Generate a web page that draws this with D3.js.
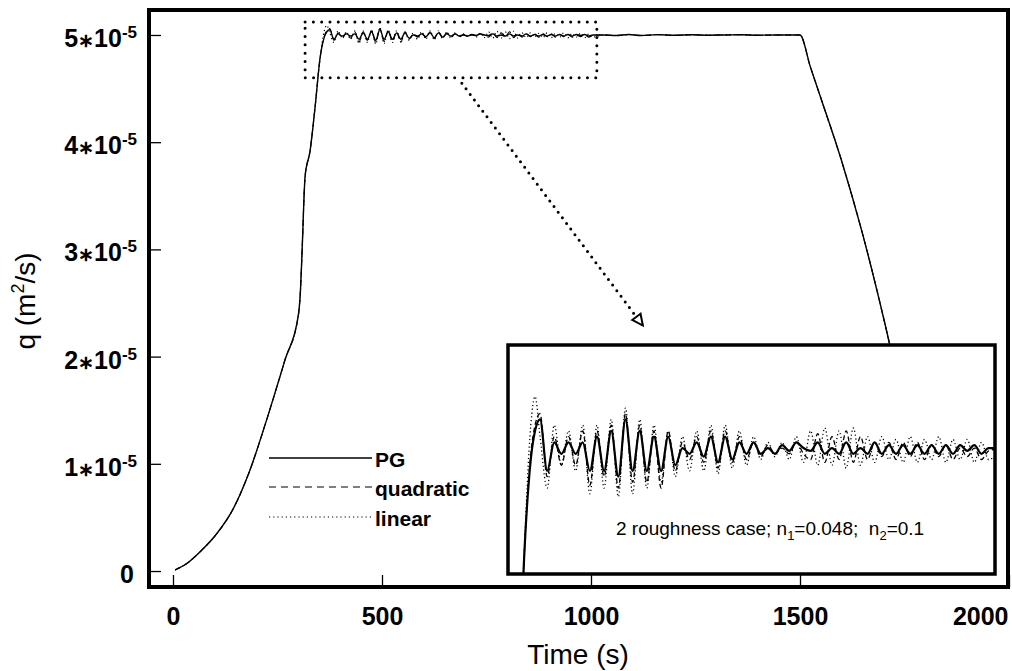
<!DOCTYPE html>
<html><head><meta charset="utf-8">
<script src="https://cdn.jsdelivr.net/npm/d3@7"></script>
<style>body{margin:0;background:#fff}text{font-family:"Liberation Sans",Arial,Helvetica,sans-serif;fill:#000;white-space:pre}</style>
</head><body>
<svg id="c" width="1012" height="671"></svg>
<script>
// ---------- DATA (q in units of 1e-5 m^2/s, time in s) ----------
const xTicks = [0, 500, 1000, 1500, 2000];
const yTicks = [0, 1, 2, 3, 4, 5];
const yExponent = "-5";
const seriesNames = ["PG", "quadratic", "linear"];

// common rising limb
const riseT = [5, 33, 65, 105, 144, 184, 224, 268, 300, 305, 309, 316, 328, 340, 352];
const riseQ = [0.01, 0.07, 0.18, 0.35, 0.58, 0.94, 1.41, 1.97, 2.39, 2.62, 3.00, 3.68, 3.92, 4.33, 4.79];

// oscillating plateau (shown enlarged in the inset)
const oscT = [362, 368, 375, 385, 395, 405, 415, 425, 435, 445, 455, 465, 475, 485, 495, 505, 515, 525, 535, 545,
  555, 565, 575, 585, 595, 605, 615, 625, 635, 645, 655, 665, 675, 685, 695, 705, 715, 725, 735, 745,
  755, 765, 775, 785, 795, 805, 815, 825, 835, 845, 855, 865, 875, 885, 895, 905, 915, 925, 935, 945,
  955, 965, 975, 985, 995, 1005];
const pgOsc = [4.98, 5.03,
  5.05, 4.96, 5.01, 4.99, 5.01, 4.99, 5.01, 4.96, 5.02, 4.96,
  5.03, 4.95, 5.05, 4.96, 5.03, 4.96, 5.02, 4.96, 5.02, 4.97,
  5.00, 4.99, 5.01, 4.985, 5.02, 4.975, 5.02, 4.98, 5.01, 4.99,
  5.01, 4.99, 5.00, 4.99, 5.005, 4.995, 5.01, 5.00, 4.995, 5.01,
  4.99, 5.00, 4.99, 5.01, 4.99, 5.00, 4.99, 5.01, 4.99, 5.005,
  4.99, 5.005, 4.99, 5.005, 4.99, 5.005, 4.99, 5.005, 4.99, 5.005,
  4.995, 5.005, 4.99, 5.00];
const quadOsc = [4.99, 5.04,
  5.06, 4.95, 5.02, 4.97, 5.02, 4.97, 5.03, 4.935, 5.03, 4.95,
  5.04, 4.93, 5.06, 4.94, 5.04, 4.94, 5.03, 4.93, 5.03, 4.96,
  5.01, 4.98, 5.02, 4.975, 5.03, 4.965, 5.03, 4.975, 5.02, 4.98,
  5.01, 4.985, 5.005, 4.99, 5.00, 4.99, 5.01, 4.99, 4.98, 5.025,
  4.975, 5.02, 4.98, 5.03, 4.975, 5.02, 4.98, 5.01, 4.985, 5.01,
  4.98, 5.01, 4.985, 5.01, 4.98, 5.005, 4.985, 5.005, 4.98, 5.00,
  4.985, 5.00, 4.98, 4.995];
const linOsc = [5.04, 5.09,
  5.02, 4.93, 5.04, 4.97, 5.03, 4.96, 5.04, 4.92, 5.04, 4.93,
  5.05, 4.915, 5.07, 4.92, 5.05, 4.93, 5.04, 4.94, 5.03, 4.95,
  5.02, 4.96, 5.03, 4.96, 5.04, 4.955, 5.04, 4.965, 5.03, 4.97,
  5.02, 4.98, 5.01, 4.985, 5.01, 4.98, 5.02, 4.975, 5.03, 4.97,
  5.035, 4.97, 5.03, 4.965, 5.035, 4.97, 5.02, 4.975, 5.02, 4.98,
  5.015, 4.975, 5.02, 4.975, 5.015, 4.98, 5.02, 4.975, 5.015, 4.98,
  5.015, 4.975, 5.01, 4.98];

// common plateau end and falling limb
const tailT = [1030, 1060, 1090, 1120, 1160, 1200, 1240, 1280, 1320, 1360, 1400, 1440, 1480, 1500, 1525, 1550, 1600, 1650, 1700, 1750, 1800, 1850];
const tailQ = [5.0, 4.995, 5.005, 4.995, 5.003, 4.997, 5.002, 4.998, 5.0, 5.002, 4.998, 5.0, 5.0, 5.0, 4.70, 4.41, 3.82, 3.14, 2.36, 1.50, 0.75, 0.20];

const insetNote = ["2 roughness case; n", "1", "=0.048;  n", "2", "=0.1"];

// ---------- BUILD ----------
const times = riseT.concat(oscT, tailT);
const series = [pgOsc, quadOsc, linOsc].map((osc, i) => ({
  name: seriesNames[i],
  pts: times.map((t, k) => [t, riseQ.concat(osc, tailQ)[k]])
}));
const styles = [
  {w: 1.4, dash: null, wi: 2.2},
  {w: 1.1, dash: "6,4", wi: 1.3, dashi: "5,3"},
  {w: 1.1, dash: "1.2,2.8", wi: 1.3, dashi: "1.2,2.6"}
];

const svg = d3.select("#c");
const L = 149, R = 1008, T = 10, B = 587;
const x = d3.scaleLinear().domain([-57.4, 2000]).range([149, 1009]);
const y = d3.scaleLinear().domain([-0.149, 5.233]).range([B, T]);

svg.append("defs").append("clipPath").attr("id", "mainclip")
  .append("rect").attr("x", L).attr("y", T).attr("width", R - L).attr("height", B - T);

const line = d3.line().x(d => x(d[0])).y(d => y(d[1])).curve(d3.curveMonotoneX);
const gMain = svg.append("g").attr("clip-path", "url(#mainclip)");
series.forEach((s, i) => {
  gMain.append("path").attr("d", line(s.pts)).attr("fill", "none").attr("stroke", "#000")
    .attr("stroke-width", styles[i].w).attr("stroke-dasharray", styles[i].dash);
});

// axes
const xa = svg.append("g").attr("transform", `translate(0,${B})`)
  .call(d3.axisBottom(x).tickValues(xTicks).tickSize(-12).tickPadding(20).tickFormat(d3.format("d")));
xa.select(".domain").remove();
xa.selectAll(".tick line").attr("stroke", "#000").attr("stroke-width", 1.3);
xa.selectAll(".tick text").attr("font-size", 25).attr("font-weight", "bold")
  .style("font-family", '"Liberation Sans", Arial, sans-serif').attr("fill", "#000");
xa.selectAll(".tick text").filter(d => d === 2000).attr("text-anchor", "end").attr("x", -1);

const ya = svg.append("g").attr("transform", `translate(${L},0)`)
  .call(d3.axisLeft(y).tickValues(yTicks).tickSize(-12).tickFormat(""));
ya.select(".domain").remove();
ya.selectAll(".tick line").attr("stroke", "#000").attr("stroke-width", 1.3);

const yl = svg.append("g").selectAll("text").data(yTicks).join("text")
  .attr("x", d => d === 0 ? 134 : 137).attr("y", d => y(d) + 12)
  .attr("text-anchor", "end").attr("font-size", 25).attr("font-weight", "bold");
yl.each(function(d) {
  const t = d3.select(this);
  if (d === 0) { t.text("0"); return; }
  t.append("tspan").text(String(d));
  t.append("tspan").attr("font-size", 19).text("\u2217");
  t.append("tspan").text("10");
  t.append("tspan").attr("font-size", 17).attr("dy", -9).text(yExponent);
});

// frame
svg.append("rect").attr("x", L).attr("y", T).attr("width", R - L).attr("height", B - T)
  .attr("fill", "none").attr("stroke", "#000").attr("stroke-width", 4);

// axis titles
svg.append("text").attr("x", 578).attr("y", 664).attr("text-anchor", "middle").attr("font-size", 28).text("Time (s)");
const yt = svg.append("text").attr("transform", "translate(35,301) rotate(-90)")
  .attr("text-anchor", "middle").attr("font-size", 28);
yt.append("tspan").text("q (m");
yt.append("tspan").attr("font-size", 18).attr("dy", -11).text("2");
yt.append("tspan").attr("dy", 11).text("/s)");

// legend
const legY = [458, 487, 517];
const lg = svg.append("g");
seriesNames.forEach((n, i) => {
  lg.append("line").attr("x1", 269).attr("x2", 372).attr("y1", legY[i]).attr("y2", legY[i])
    .attr("stroke", "#000").attr("stroke-width", i === 0 ? 1.4 : 1.1)
    .attr("stroke-dasharray", i === 0 ? null : (i === 1 ? "7,5" : "1.2,3"));
  lg.append("text").attr("x", 375).attr("y", legY[i] + 8.5).attr("font-size", 21).attr("font-weight", "bold").text(n);
});

// zoom rectangle
const zr = {t0: 316, t1: 1014, q0: 4.60, q1: 5.12};
svg.append("rect").attr("x", x(zr.t0)).attr("y", y(zr.q1)).attr("width", x(zr.t1) - x(zr.t0)).attr("height", y(zr.q0) - y(zr.q1))
  .attr("fill", "none").attr("stroke", "#000").attr("stroke-width", 3).attr("stroke-linecap", "round").attr("stroke-dasharray", "0,8.3");
// arrow
const a0 = [x(691), y(4.55)], a1 = [x(1124), y(2.29)];
svg.append("line").attr("x1", a0[0]).attr("y1", a0[1]).attr("x2", a1[0]).attr("y2", a1[1])
  .attr("stroke", "#000").attr("stroke-width", 3).attr("stroke-linecap", "round").attr("stroke-dasharray", "0,7");
const ang = Math.atan2(a1[1] - a0[1], a1[0] - a0[0]);
const hl = 12, hw = 0.45;
svg.append("path").attr("d", `M${a1[0] - hl * Math.cos(ang - hw)},${a1[1] - hl * Math.sin(ang - hw)}L${a1[0]},${a1[1]}L${a1[0] - hl * Math.cos(ang + hw)},${a1[1] - hl * Math.sin(ang + hw)}Z`)
  .attr("fill", "#fff").attr("stroke", "#000").attr("stroke-width", 2);

// ---------- INSET ----------
const IL = 508, IR = 995, IT = 345, IB = 574;
const x2 = d3.scaleLinear().domain([330, 1014]).range([IL, IR]);
const y2 = d3.scaleLinear().domain([4.78, 5.18]).range([IB, IT]);
svg.append("rect").attr("x", IL).attr("y", IT).attr("width", IR - IL).attr("height", IB - IT).attr("fill", "#fff");
svg.select("defs").append("clipPath").attr("id", "insclip")
  .append("rect").attr("x", IL).attr("y", IT).attr("width", IR - IL).attr("height", IB - IT);
const line2 = d3.line().x(d => x2(d[0])).y(d => y2(d[1])).curve(d3.curveMonotoneX);
const gIn = svg.append("g").attr("clip-path", "url(#insclip)");
[2, 1, 0].forEach(i => {
  gIn.append("path").attr("d", line2(series[i].pts)).attr("fill", "none").attr("stroke", "#000")
    .attr("stroke-width", styles[i].wi).attr("stroke-dasharray", styles[i].dashi || null);
});
svg.append("rect").attr("x", IL).attr("y", IT).attr("width", IR - IL).attr("height", IB - IT)
  .attr("fill", "none").attr("stroke", "#000").attr("stroke-width", 3.5);
const nt = svg.append("text").attr("x", 616).attr("y", 535).attr("font-size", 19);
insetNote.forEach((s, i) => {
  const sub = i % 2 === 1;
  nt.append("tspan").attr("font-size", sub ? 13 : 19).attr("dy", sub ? 5 : (i > 0 ? -5 : 0)).text(s);
});
</script>
</body></html>
